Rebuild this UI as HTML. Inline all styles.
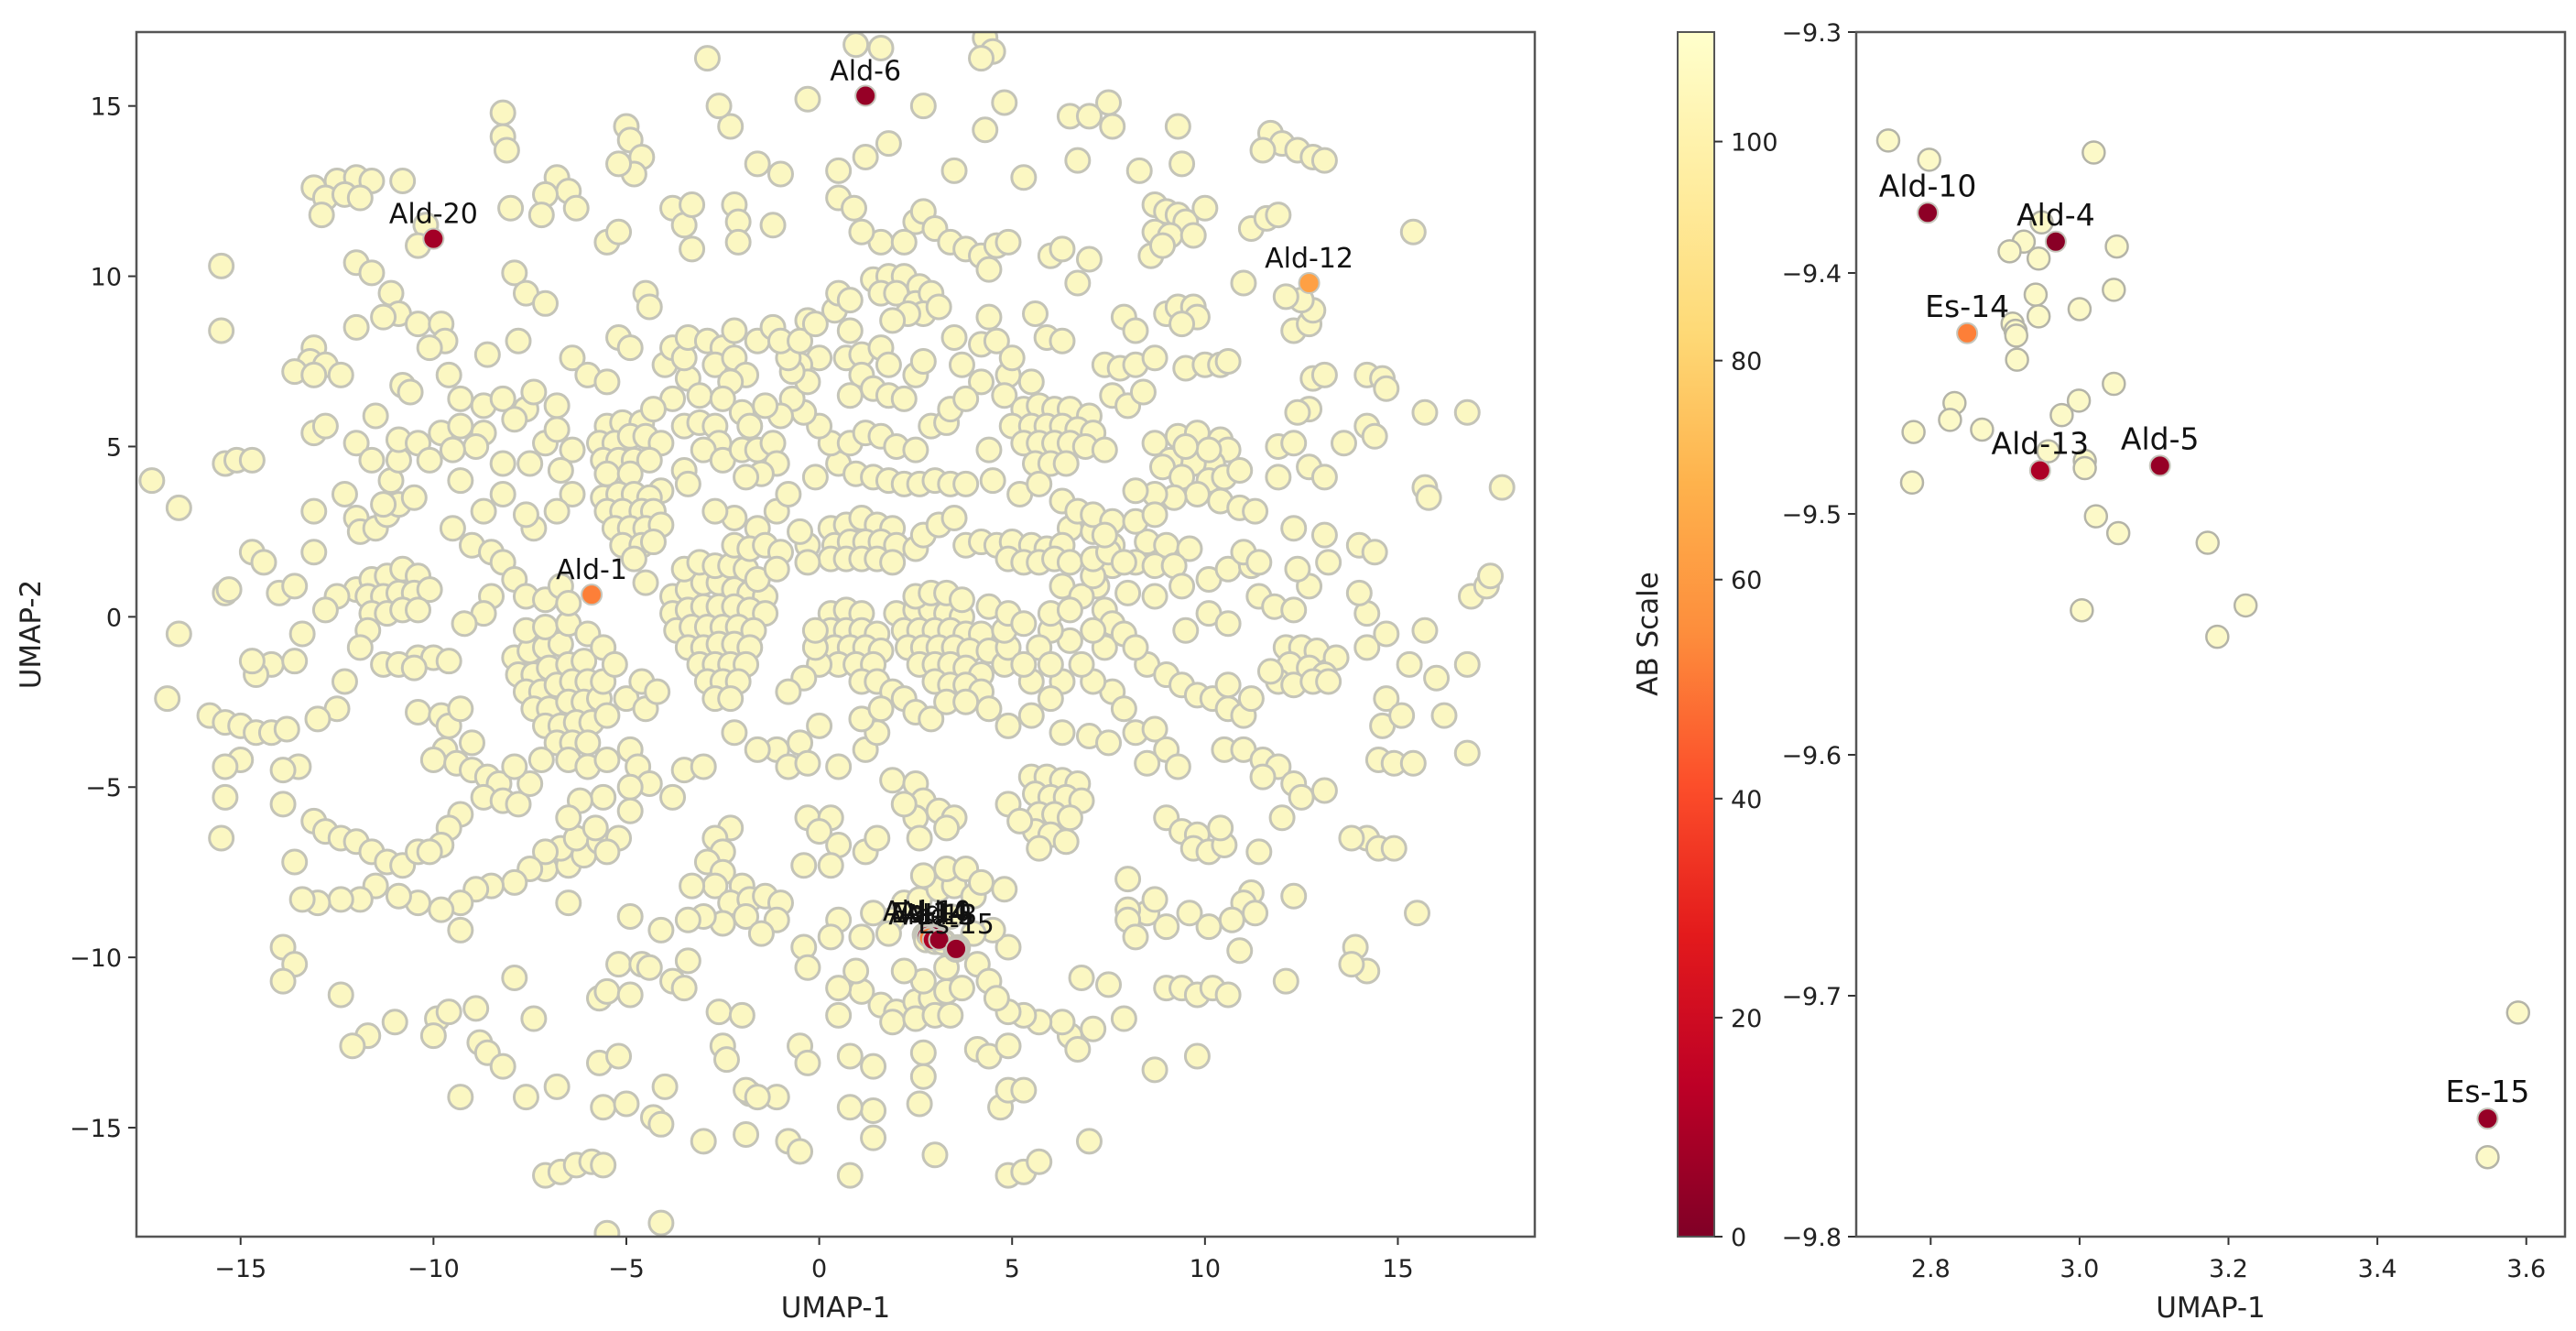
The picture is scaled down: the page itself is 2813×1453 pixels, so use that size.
<!DOCTYPE html>
<html><head><meta charset="utf-8">
<style>
html,body{margin:0;padding:0;background:#fff;}
svg{display:block;font-family:"DejaVu Sans","Liberation Sans",sans-serif;}
</style></head>
<body>
<svg id="fig" width="2813" height="1453" viewBox="0 0 2813 1453" xmlns="http://www.w3.org/2000/svg">
<defs>
<linearGradient id="cbgrad" x1="0" y1="1" x2="0" y2="0">
<stop offset="0" stop-color="#800026"/><stop offset="0.125" stop-color="#bd0026"/><stop offset="0.25" stop-color="#e31a1c"/><stop offset="0.375" stop-color="#fc4e2a"/><stop offset="0.5" stop-color="#fd8d3c"/><stop offset="0.625" stop-color="#feb24c"/><stop offset="0.75" stop-color="#fed976"/><stop offset="0.875" stop-color="#ffeda0"/><stop offset="1" stop-color="#ffffcc"/>
</linearGradient>
</defs>
<g id="left"></g>
<g id="cbar"></g>
<g id="right"></g>
</svg>
<script>
// ---------- data ----------
const bgPoints = [
[-2.9,16.4],[0.95,16.8],[1.6,16.7],[4.3,17],[4.5,16.6],[4.2,16.4],[-0.3,15.2],[2.7,15],[4.8,15.1],[4.3,14.3],[6.5,14.7],[7.5,15.1],[7.6,14.4],[9.3,14.4],[7,14.7],[-2.3,14.4],[-2.6,15],[-8.2,14.8],[-8.2,14.1],[-8.1,13.7],[-5,14.4],[-4.9,14],[-4.6,13.5],[-4.8,13],[-5.2,13.3],
[11.7,14.2],[12,13.9],[12.4,13.7],[12.8,13.5],[13.1,13.4],[11.5,13.7],[1.2,13.5],[0.5,13.1],[1.8,13.9],[-1.6,13.3],[-1,13],[3.5,13.1],[5.3,12.9],[6.7,13.4],[8.3,13.1],[9.4,13.3],[2.5,11.6],
[-13.1,12.6],[-12.5,12.8],[-12,12.9],[-11.6,12.8],[-12.8,12.3],[-12.3,12.4],[-11.9,12.3],[-12.9,11.8],[-10.8,12.8],[-6.8,12.9],[-6.5,12.5],[-6.3,12],[-7.1,12.4],[-8,12],[-10.2,11.5],[-10.4,10.9],[-7.2,11.8],
[-3.8,12],[-3.5,11.5],[-3.3,12.1],[-3.3,10.8],[-5.5,11],[-5.2,11.3],[-2.2,12.1],[-2.1,11.6],[-1.2,11.5],[-2.1,11],
[0.5,12.3],[0.9,12],[2.7,11.9],[3,11.4],[3.4,11],[3.8,10.8],[4.2,10.6],[4.4,10.2],[4.6,10.9],[4.9,11],[6,10.6],[6.3,10.8],[6.7,9.8],[7,10.5],
[8.7,12.1],[9,11.9],[9.3,11.8],[9.5,11.6],[8.7,11.3],[9.1,11.2],[9.7,11.2],[8.6,10.6],[8.9,10.9],[10,12],[11.2,11.4],[11.6,11.7],[11.9,11.8],[15.4,11.3],
[-15.5,10.3],[-15.5,8.4],[-12,10.4],[-11.6,10.1],[-11.1,9.5],[-10.9,8.9],[-11.3,8.8],[-10.4,8.6],[-9.8,8.6],[-9.7,8.1],[-10.1,7.9],[-12,8.5],[-13.1,7.9],[-13.2,7.5],[-13.6,7.2],[-12.8,7.4],[-12.4,7.1],[-13.1,7.1],
[-7.9,10.1],[-7.6,9.5],[-7.1,9.2],[-7.8,8.1],[-8.6,7.7],[-9.6,7.1],[-10.8,6.8],[-9.3,6.4],[-8.7,6.2],[-8.2,6.4],[-7.6,6.1],
[-4.5,9.5],[-4.4,9.1],[-5.2,8.2],[-4.9,7.9],[-4,7.4],[-3.4,7],[-6.4,7.6],[-6,7.1],[-5.5,6.9],[-7.4,6.6],[-6.8,6.2],
[-3.8,7.9],[-3.5,7.6],[-3.4,8.2],[-2.9,8.1],[-2.5,7.9],[-2.7,7.4],[-2.2,7.6],[-1.9,7.1],[-2.3,6.9],[-1.6,8.1],[-1.2,8.5],[-2.2,8.4],
[-0.3,8.7],[0.4,9],[0.5,9.5],[0.8,9.3],[1.4,9.9],[1.8,10],[2.2,10],[2.6,9.7],[1.6,9.5],[2,9.5],[2.5,9.2],[2.9,9.5],[2.7,8.9],[3.1,9.1],[2.3,8.9],[1.9,8.7],[0.8,8.4],[0.7,7.6],[1.1,7.7],[1.6,7.9],[1.8,7.4],[1.1,7.1],[1.4,6.7],[1.8,6.5],[2.2,6.4],[2.5,7.1],[2.7,7.5],[0.8,6.5],[0,7.6],[-0.5,7.4],
[3.5,8.2],[4.2,8],[4.6,8.1],[3.7,7.4],[4.2,6.9],[4.9,7.1],[5,7.6],[4.8,6.5],[5.5,6.9],[5.9,8.2],[5.6,8.9],[4.4,8.8],[6.3,8.1],
[7.9,8.8],[8.2,8.4],[9,8.9],[9.3,9.1],[9.7,9.1],[9.8,8.8],[9.4,8.6],[7.4,7.4],[7.8,7.3],[8.2,7.4],[8.7,7.6],[7.6,6.5],[8,6.2],[8.4,6.6],[9.5,7.3],[10,7.4],[10.4,7.4],[10.6,7.5],
[12.3,8.4],[12.7,8.6],[12.8,9],[12.5,9.3],[12.1,9.4],[11,9.8],[12.8,7],[13.1,7.1],[14.2,7.1],[14.6,7],[14.7,6.7],[12.7,6.1],[12.4,6],[14.2,5.6],[13.6,5.1],[14.4,5.3],[15.7,6],[16.8,6],[17.7,3.8],[15.7,3.8],[15.8,3.5],
[8.7,5.1],[9.3,5.3],[9.8,5.4],[10.4,5.2],[10.6,4.9],[10.2,4.5],[9.7,4.5],[9.1,4.6],[8.9,4.4],[9.4,4.1],[10.1,4],[10.5,4.1],[9.8,3.6],[10.4,3.4],[10.9,3.2],[11.3,3.1],[9.2,3.5],[8.7,3.6],[8.2,3.7],[10.1,4.9],[9.5,5],[10.9,4.3],[11.9,5],[12.3,5.1],[12.7,4.4],[13.1,4.1],[11.9,4.1],
[5.3,6.1],[5.7,6.2],[6.1,6.1],[6.5,6.1],[7,5.9],[5,5.6],[5.5,5.6],[5.9,5.6],[6.3,5.6],[6.7,5.5],[7.1,5.4],[5.3,5.1],[5.7,5.1],[6.1,5.1],[6.5,5.1],[6.9,5],[7.4,4.9],[5.6,4.5],[6,4.5],[6.4,4.5],[4.4,4.9],[4.5,4],[5.2,3.6],[5.7,3.9],
[6.5,2.6],[7.1,2.5],[7.6,2.1],[8.5,2.2],[9,2.1],[9.6,2],[8.2,1.6],[7.6,1.5],[8.7,1.5],[9.2,1.5],[7.2,0.9],[8,0.7],[8.7,0.6],[9.4,0.9],[10.1,1.1],[10.6,1.4],[11.2,1.5],[10.1,0.1],[10.6,-0.2],[9.5,-0.4],[11.4,0.6],[11.8,0.3],[12.3,0.2],[12.7,0.9],[12.4,1.4],[13.2,1.6],
[12.1,-0.9],[12.5,-0.9],[12.9,-1],[13.4,-1.2],[12.2,-1.4],[12.7,-1.5],[13.1,-1.7],[11.9,-1.9],[12.3,-2],[12.8,-1.9],[13.2,-1.9],[11.7,-1.6],[14.2,0.1],[14.2,-0.9],[14.7,-0.5],[15.3,-1.4],[16,-1.8],[16.8,-1.4],[16.9,0.6],[17.3,0.9],[17.4,1.2],[15.7,-0.4],[14.7,-2.4],[14.6,-3.2],[15.1,-2.9],[16.2,-2.9],[16.8,-4],[14.5,-4.2],[14.9,-4.3],[15.4,-4.3],
[8.5,-1.4],[9,-1.7],[9.4,-2],[9.8,-2.3],[10.2,-2.4],[10.6,-2.7],[11,-2.9],[11.2,-2.4],[10.6,-2],[7.6,-2.2],[7.9,-2.7],[7.1,-1.9],[6.8,-1.4],[7.4,-0.9],[6.5,-0.7],[6,-0.4],[6.3,-1.9],[6,-2.4],[5.5,-2.9],[4.9,-3.2],[6.3,-3.4],[7,-3.5],[7.5,-3.7],[8.2,-3.4],[8.7,-3.3],[9,-3.9],[8.5,-4.3],[9.3,-4.4],[10.5,-3.9],[11,-3.9],[11.5,-4.2],[11.9,-4.4],[12.3,-4.9],[11.5,-4.7],[12.5,-5.3],[13.1,-5.1],
[5.5,-4.7],[5.9,-4.7],[6.3,-4.8],[6.7,-4.9],[5.6,-5.2],[6,-5.3],[6.4,-5.3],[6.8,-5.4],[5.7,-5.8],[6.1,-5.8],[6.5,-5.9],[5.6,-6.3],[6,-6.4],[6.4,-6.6],[5.7,-6.8],[4.9,-5.5],[5.2,-6],
[9,-5.9],[9.4,-6.3],[9.8,-6.4],[9.7,-6.8],[10.1,-6.9],[10.5,-6.7],[10.4,-6.2],[11.4,-6.9],[12,-5.9],[12.3,-8.2],[11.2,-8.1],[11,-8.4],[11.3,-8.7],[10.7,-8.9],[10.1,-9.1],[9.6,-8.7],[9,-9.1],[8.5,-8.7],[8,-8.6],[8.7,-8.3],[8,-8.9],[8.2,-9.4],[15.5,-8.7],[14.2,-6.5],[13.8,-6.5],[14.5,-6.8],[14.9,-6.8],[13.9,-9.7],[14.2,-10.4],[13.8,-10.2],[12.1,-10.7],[10.9,-9.8],
[9,-10.9],[9.4,-10.9],[9.8,-11.1],[10.2,-10.9],[10.6,-11.1],[9.8,-12.9],[8.7,-13.3],[7.9,-11.8],[7.1,-12.1],[6.5,-12.3],[6.7,-12.7],[6.8,-10.6],[7.5,-10.8],[7,-15.4],[8,-7.7],
[1.6,-11.4],[2,-11.6],[2.5,-11.3],[2.9,-11.2],[3.3,-11],[3.7,-10.9],[1.9,-11.9],[2.5,-11.8],[3,-11.7],[3.4,-11.7],[1.1,-11],[0.95,-10.4],[2.7,-10.7],[2.2,-10.4],[3.3,-10.3],[4.1,-10.2],[4.4,-10.7],[4.9,-9.7],[4.5,-9.2],[4,-9.3],[3.4,-8.8],[2.2,-8.4],[2.6,-8.3],[3.1,-8],[3.5,-7.9],[4,-8.2],[2.7,-7.6],[3.3,-7.4],[3.8,-7.4],[4.2,-7.8],[4.8,-8],[1.9,-8.9],[1.4,-8.7],[1.8,-9.3],[1.1,-9.4],[0.5,-8.9],[0.3,-9.4],[-0.4,-9.7],[-0.3,-10.3],[0.5,-10.9],[0.5,-11.7],[-0.5,-12.6],[-0.3,-13.1],[-1.1,-14.1],[-1.8,-14],[0.8,-12.9],[1.4,-13.2],[2.7,-12.8],[2.7,-13.5],[2.6,-14.3],[1.4,-14.5],[0.8,-14.4],[0.8,-16.4],[-0.8,-15.4],[-0.5,-15.7],[1.4,-15.3],[3,-15.8],[4.1,-12.7],[4.4,-12.9],[4.9,-12.6],[4.7,-14.4],[4.9,-13.9],[5.3,-13.9],[4.9,-16.4],[5.3,-16.3],[5.7,-16],[6.3,-11.9],[5.7,-11.9],[5.3,-11.7],[4.9,-11.6],[4.6,-11.2],
[-0.3,-5.9],[0.3,-5.9],[0,-6.3],[0.5,-6.7],[0.3,-7.3],[-0.4,-7.3],[1.2,-6.9],[1.5,-6.5],[1.9,-4.8],[2.5,-4.9],[2.7,-5.4],[2.5,-5.9],[3.1,-5.7],[3.5,-5.9],[2.2,-5.5],[2.6,-6.5],[3.3,-6.2],[1.2,-3.9],[1.5,-3.4],[1.1,-3],[0,-3.2],[-0.5,-3.7],[-1.1,-3.9],[-1.6,-3.9],[-0.8,-4.4],[-0.3,-4.3],[0.5,-4.4],[-2.2,-3.4],
[-2.3,-6.2],[-2.7,-6.5],[-2.5,-6.9],[-2.9,-7.2],[-2.5,-7.5],[-2,-7.9],[-2.7,-7.9],[-2.3,-8.4],[-1.8,-8.3],[-1.4,-8.2],[-1,-8.4],[-1.9,-8.8],[-2.5,-9],[-3,-8.8],[-3.3,-7.9],[-3.4,-8.9],[-1.1,-8.9],[-1.5,-9.3],
[-7.1,-7.4],[-6.5,-7.3],[-6.1,-7],[-6.7,-6.8],[-6.3,-6.5],[-5.7,-6.6],[-5.2,-6.5],[-5.5,-6.9],[-7.1,-6.9],[-7.5,-7.4],[-7.9,-7.8],[-8.5,-7.9],[-8.9,-8],[-9.3,-8.4],[-9.8,-8.6],[-10.4,-8.4],[-10.9,-8.2],[-11.5,-7.9],[-11.9,-8.3],[-12.4,-8.3],[-13,-8.4],[-13.4,-8.3],[-13.1,-6],[-12.8,-6.3],[-12.4,-6.5],[-12,-6.6],[-11.6,-6.9],[-11.2,-7.2],[-10.8,-7.3],[-10.4,-6.9],[-13.6,-7.2],[-13.9,-5.5],[-13.5,-4.4],[-13.9,-4.5],[-15,-4.2],[-15.4,-4.4],[-15.4,-5.3],[-15.5,-6.5],[-15.8,-2.9],[-15.4,-3.1],[-15,-3.2],[-14.6,-3.4],[-14.2,-3.4],[-13.8,-3.3],[-16.9,-2.4],[-16.6,-0.5],[-17.3,4],[-16.6,3.2],
[-12,0.8],[-11.6,1.1],[-11.2,1.2],[-10.8,1.4],[-10.4,1.2],[-11.7,0.6],[-11.3,0.6],[-10.9,0.7],[-10.5,0.7],[-10.1,0.8],[-11.6,0.1],[-11.2,0.1],[-10.8,0.2],[-10.4,0.2],[-11.7,-0.4],[-11.9,-0.9],[-14.2,-1.4],[-14.6,-1.7],[-14.7,-1.3],[-13.6,-1.3],[-13.4,-0.5],[-12.5,0.6],[-12.8,0.2],[-15.4,0.7],[-15.3,0.8],[-14,0.7],[-13.6,0.9],[-14.7,1.9],[-14.4,1.6],[-15.4,4.5],[-15.1,4.6],[-14.7,4.6],[-13.1,1.9],[-13.1,3.1],[-12.3,3.6],[-12,2.9],[-11.9,2.5],[-11.5,2.6],[-11.2,3],[-10.9,3.3],[-11.3,3.3],[-10.5,3.5],[-11.1,4],[-10.9,4.6],[-10.9,5.2],[-11.5,5.9],[-13.1,5.4],[-12.8,5.6],[-12,5.1],[-11.6,4.6],[-10.6,6.6],
[-10.4,-1.2],[-10,-1.2],[-9.6,-1.3],[-11.3,-1.4],[-10.9,-1.4],[-10.5,-1.5],[-12.3,-1.9],[-12.5,-2.7],[-13,-3],[-10.4,-2.8],[-9.8,-2.9],[-9.6,-3.2],[-9.3,-2.7],[-9,-3.7],[-9.7,-3.9],[-10,-4.2],[-9.4,-4.3],[-9,-4.5],[-8.6,-4.7],[-8.3,-4.9],[-8.7,-5.3],[-8.2,-5.4],[-7.8,-5.5],[-7.5,-4.9],[-7.9,-4.4],[-9.3,-5.8],[-9.6,-6.2],[-9.8,-6.7],[-10.1,-6.9],
[-7.9,-1.2],[-7.5,-1],[-7.1,-0.9],[-6.7,-0.8],[-7.8,-1.7],[-7.4,-1.7],[-7,-1.5],[-6.5,-1.4],[-6.1,-1.3],[-7.6,-2.2],[-7.2,-2.2],[-6.8,-2],[-6.4,-1.9],[-6,-1.9],[-7.4,-2.7],[-7,-2.7],[-6.5,-2.5],[-6.1,-2.5],[-5.7,-2.4],[-7.1,-3.2],[-6.7,-3.2],[-6.3,-3.1],[-5.9,-3.1],[-5.5,-2.9],[-7.6,-0.4],[-7.1,-0.3],[-6.5,-0.2],[-6,-0.5],[-5.6,-0.9],[-5.6,-1.9],[-5.3,-1.4],[-5,-2.4],[-4.6,-1.9],[-4.5,-2.7],[-4.2,-2.2],[-6.8,-3.7],[-6.4,-3.7],[-6,-3.7],[-7.2,-4.2],[-6.5,-4.2],[-6,-4.4],[-5.5,-4.2],[-4.9,-3.9],[-4.7,-4.4],[-4.4,-4.9],[-4.9,-5],[-5.6,-5.3],[-6.2,-5.4],[-6.5,-5.9],[-5.8,-6.2],[-4.9,-5.7],[-3.8,-5.3],[-3.5,-4.5],[-3,-4.4],
[-3.8,0.6],[-3.4,0.8],[-3,1],[-2.6,1],[-2.2,0.8],[-1.8,0.7],[-1.4,0.6],[-3.8,0.1],[-3.4,0.2],[-3,0.3],[-2.6,0.3],[-2.2,0.3],[-1.8,0.2],[-1.4,0.1],[-3.7,-0.4],[-3.3,-0.3],[-2.9,-0.3],[-2.5,-0.3],[-2.1,-0.3],[-1.7,-0.4],[-3.4,-0.9],[-3,-0.9],[-2.6,-0.8],[-2.2,-0.8],[-1.8,-0.9],[-3.1,-1.4],[-2.7,-1.4],[-2.3,-1.4],[-1.9,-1.4],[-2.9,-1.9],[-2.5,-1.9],[-2.1,-1.9],[-2.7,-2.4],[-2.3,-2.4],[-3.5,1.4],[-3.1,1.6],[-2.7,1.5],[-2.3,1.5],[-1.9,1.4],[-1.6,1.1],
[0.3,0.1],[0.7,0.2],[1.1,0.1],[0.3,-0.4],[0.7,-0.4],[1.1,-0.4],[1.5,-0.5],[0.4,-0.9],[0.8,-0.9],[1.2,-0.9],[1.6,-1],[0.5,-1.4],[0.95,-1.4],[1.4,-1.4],[0,-1.4],[-0.1,-0.9],[-0.1,-0.4],[1.1,-1.9],[1.5,-1.9],[1.9,-2.2],[2.2,-2.4],[2.5,-2.8],[2.9,-3],[1.6,-2.7],[-0.4,-1.8],[-0.8,-2.2],
[2,0.1],[2.5,0.2],[2.9,0.2],[3.3,0.1],[3.7,0],[2.2,-0.4],[2.6,-0.4],[3,-0.4],[3.4,-0.4],[3.8,-0.5],[4.2,-0.5],[2.3,-0.9],[2.7,-0.9],[3.1,-0.9],[3.5,-0.9],[3.9,-1],[4.4,-1],[2.6,-1.4],[3,-1.4],[3.4,-1.4],[3.8,-1.5],[4.2,-1.7],[3,-1.9],[3.4,-2],[3.8,-2],[4.2,-2.2],[3.3,-2.5],[3.8,-2.5],[4.4,-2.7],[4.8,-1.4],[4.9,-0.9],[4.8,-0.4],[2.5,0.6],[2.9,0.7],[3.3,0.7],[3.7,0.5],[4.4,0.3],[4.9,0.1],[5.3,-0.2],[5.7,-0.9],[6,-1.4],[5.5,-1.9],[5.3,-1.4],
[0.3,2.6],[0.7,2.7],[1.1,2.9],[1.5,2.7],[1.9,2.6],[0.4,2.1],[0.8,2.2],[1.2,2.2],[1.6,2.2],[2,2.1],[2.5,2],[0.3,1.7],[0.7,1.7],[1.1,1.7],[1.5,1.7],[1.9,1.6],[-0.3,2.1],[-0.3,1.6],[-0.5,2.5],[2.7,2.4],[3.1,2.7],[3.5,2.9],[3.8,2.1],[4.2,2.2],[4.6,2.1],[5,2.2],[5.5,2.1],[5.9,2],[6.3,2.1],[4.9,1.7],[5.3,1.6],[5.7,1.6],[6.1,1.7],
[-1.6,2.6],[-2.2,2.9],[-2.7,3.1],[-1.1,3.1],[-0.8,3.6],[-0.1,4.1],[0.5,4.5],[0.95,4.2],[1.4,4.1],[1.8,4],[2.2,3.9],[2.6,3.9],[3,4],[3.4,3.9],[3.8,3.9],[0.3,5.1],[0.8,5.1],[1.2,5.4],[1.6,5.3],[2,5],[2.5,4.9],[2.9,5.6],[3.3,5.7],[3.4,6.1],[3.8,6.4],[0,5.6],[-0.4,6],[-0.7,6.4],[-1,5.9],[-0.3,6.9],[-0.7,7.2],
[-5.5,5.6],[-5.1,5.7],[-4.6,5.7],[-5.7,5.1],[-5.3,5.1],[-4.9,5.3],[-4.5,5.3],[-4.1,5.1],[-5.6,4.6],[-5.2,4.6],[-4.8,4.6],[-4.4,4.6],[-5.5,4.2],[-4.9,4.2],[-3.5,5.6],[-3.1,5.7],[-2.7,5.6],[-2.6,5.1],[-3,4.9],[-2.5,4.6],[-2,4.9],[-1.6,4.9],[-1.2,5.1],[-1.1,4.5],[-1.5,4.2],[-1.9,4.1],[-3.5,4.3],[-3.4,3.9],[-4.1,3.7],[-5.6,3.5],[-5.2,3.6],[-4.8,3.6],[-4.4,3.5],[-5.5,3.1],[-5.1,3.1],[-4.6,3.1],[-4.3,3.1],[-5.3,2.6],[-4.9,2.6],[-4.5,2.6],[-4.1,2.7],[-5.1,2.1],[-4.6,2.1],[-4.3,2.2],[-4.8,1.7],[-6.4,3.6],[-6.8,3.1],[-7.4,2.6],[-7.6,3],[-8.2,3.6],[-8.7,3.1],[-9.5,2.6],[-9,2.1],[-8.5,1.9],[-8.2,1.6],[-7.9,1.1],[-8.5,0.6],[-8.7,0.1],[-9.2,-0.2],[-7.6,0.6],[-7.1,0.5],[-6.7,0.9],[-6.5,0.4],[-4.5,1],[-2.2,2.1],[-1.8,2],[-1.4,2.1],[-1,1.9],[-1.1,1.4],
[-10.4,5.1],[-9.8,5.4],[-9.3,5.6],[-8.7,5.4],[-8.9,5],[-9.5,4.9],[-9.3,4],[-10.1,4.6],[-7.1,5.1],[-6.8,5.5],[-6.4,4.9],[-6.7,4.3],[-7.5,4.5],[-7.9,5.8],[-8.2,4.5],
[-3.8,6.4],[-4.3,6.1],[-3.1,6.5],[-2.5,6.4],[-2,6],[-1.8,5.6],[-1.4,6.2],[-0.8,7.6],[-1,8.1],[-0.5,8.1],[-0.1,8.6],[1.6,11],[2.2,11],[1.1,11.3],
[6.3,0.9],[6.8,0.6],[7.4,0.2],[7.6,-0.2],[7.9,-0.5],[8.2,-0.9],[7.1,-0.4],[6,0.1],[6.5,0.2],[7.1,1.2],[6.5,1.6],[7.1,1.7],[7.5,1.9],[7.9,1.6],
[6.3,3.4],[6.7,3.1],[7.1,3],[7.6,2.8],[8.2,2.8],[8.7,3],[7.4,2.4],
[11,1.9],[11.4,1.6],[12.3,2.6],[13.1,2.4],[14,2.1],[14.4,1.9],[14,0.7],
[-13.9,-9.7],[-13.6,-10.2],[-13.9,-10.7],[-12.4,-11.1],[-11.7,-12.3],[-12.1,-12.6],[-11,-11.9],[-9.9,-11.8],[-9.6,-11.6],[-10,-12.3],[-9.3,-14.1],[-8.9,-11.5],[-8.8,-12.5],[-8.6,-12.8],[-8.2,-13.2],[-7.9,-10.6],[-7.6,-14.1],[-7.4,-11.8],[-6.8,-13.8],[-7.1,-16.4],[-6.7,-16.3],[-6.3,-16.1],[-5.9,-16],[-5.6,-16.1],[-5.5,-18.1],[-4.1,-17.8],[-5.6,-14.4],[-5,-14.3],[-4.3,-14.7],[-4.1,-14.9],[-5.7,-13.1],[-5.2,-12.9],[-5.7,-11.2],[-5.5,-11],[-4.9,-11.1],[-5.2,-10.2],[-4.6,-10.2],[-4.4,-10.3],[-3.8,-10.7],[-3.5,-10.9],[-3.4,-10.1],[-4.1,-9.2],[-4.9,-8.8],[-6.5,-8.4],[-9.3,-9.2],[-2.6,-11.6],[-2,-11.7],[-1.9,-13.9],[-1.6,-14.1],[-3,-15.4],[-1.9,-15.2],[-4,-13.8],[-2.5,-12.6],[-2.4,-13]
];
const zoomX = [2.743,2.798,3.019,2.949,2.925,2.906,2.945,3.050,3.046,2.941,2.945,3.000,2.910,2.914,2.915,2.916,3.046,2.832,2.999,2.976,2.826,2.777,2.869,2.958,3.007,3.007,2.775,3.022,3.052,3.172,3.003,3.223,3.185,3.589,3.548];
const zoomY = [-9.345,-9.353,-9.350,-9.379,-9.387,-9.391,-9.394,-9.389,-9.407,-9.409,-9.418,-9.415,-9.421,-9.424,-9.426,-9.436,-9.446,-9.454,-9.453,-9.459,-9.461,-9.466,-9.465,-9.474,-9.478,-9.481,-9.487,-9.501,-9.508,-9.512,-9.540,-9.538,-9.551,-9.707,-9.767];
const bgValue = 103;
const labelNames = ["Ald-6","Ald-20","Ald-12","Ald-1","Ald-10","Ald-4","Es-14","Ald-13","Ald-5","Es-15"];
const labelX = [1.2,-10.0,12.7,-5.9,2.796,2.968,2.849,2.947,3.108,3.548];
const labelY = [15.3,11.1,9.8,0.65,-9.375,-9.387,-9.425,-9.482,-9.480,-9.751];
const labelValues = [5,8,62,52,3,2,52,10,5,5];
const leftXTicks = [-15,-10,-5,0,5,10,15];
const leftYTicks = [-15,-10,-5,0,5,10,15];
const rightXTicks = [2.8,3.0,3.2,3.4,3.6];
const rightYTicks = [-9.8,-9.7,-9.6,-9.5,-9.4,-9.3];
const cbTicks = [0,20,40,60,80,100];

// ---------- helpers ----------
const NS = "http://www.w3.org/2000/svg";
function mk(tag, attrs, parent){ const e=document.createElementNS(NS,tag); for(const k in attrs) e.setAttribute(k,attrs[k]); parent.appendChild(e); return e; }
const stops=[[0,[128,0,38]],[0.125,[189,0,38]],[0.25,[227,26,28]],[0.375,[252,78,42]],[0.5,[253,141,60]],[0.625,[254,178,76]],[0.75,[254,217,118]],[0.875,[255,237,160]],[1,[255,255,204]]];
const VMAX=110;
function cmap(v){ let t=Math.max(0,Math.min(1,v/VMAX)); for(let i=1;i<stops.length;i++){ if(t<=stops[i][0]){ const a=stops[i-1],b=stops[i]; const f=(t-a[0])/(b[0]-a[0]); const c=a[1].map((x,j)=>Math.round(x+(b[1][j]-x)*f)); return `rgb(${c[0]},${c[1]},${c[2]})`; } } return "rgb(255,255,204)"; }
function fmt(v,d){ return (v<0?"\u2212":"")+Math.abs(v).toFixed(d); }

// ---------- axes ----------
const LA={L:149,R:1676,T:35,B:1350,x0:-17.7,x1:18.55,y0:-18.2,y1:17.17};
const RA={L:2027,R:2801,T:35,B:1350,x0:2.7,x1:3.652,y0:-9.8,y1:-9.3};
const lx=v=>LA.L+(v-LA.x0)/(LA.x1-LA.x0)*(LA.R-LA.L);
const ly=v=>LA.B-(v-LA.y0)/(LA.y1-LA.y0)*(LA.B-LA.T);
const rx=v=>RA.L+(v-RA.x0)/(RA.x1-RA.x0)*(RA.R-RA.L);
const ry=v=>RA.B-(v-RA.y0)/(RA.y1-RA.y0)*(RA.B-RA.T);
const cy=v=>1350-v/VMAX*(1350-35);
const PR=13;

function drawAxes(g,A,fx,fy,xt,yt,dec,ylabel){
  const clip=mk("clipPath",{id:g.id+"-clip"},g);
  mk("rect",{x:A.L,y:A.T,width:A.R-A.L,height:A.B-A.T},clip);
  xt.forEach(v=>{ const x=fx(v);
    const t=mk("line",{x1:x,x2:x,y1:A.B,y2:A.B+9,stroke:"#333","stroke-width":2},g);
    
    
    const l=mk("text",{x:x,y:A.B+44,"text-anchor":"middle","font-size":27,fill:"#222"},g); l.textContent=fmt(v,dec);
    
    
  });
  yt.forEach(v=>{ const y=fy(v);
    const t=mk("line",{x1:A.L-9,x2:A.L,y1:y,y2:y,stroke:"#333","stroke-width":2},g);
    
    
    const l=mk("text",{x:A.L-16,y:y+10,"text-anchor":"end","font-size":27,fill:"#222"},g); l.textContent=fmt(v,dec);
    
    
  });
  const xl=mk("text",{x:(A.L+A.R)/2,y:1438,"text-anchor":"middle","font-size":31,fill:"#222"},g); xl.textContent="UMAP-1";
  
  
  if(ylabel){ const yl=mk("text",{x:0,y:0,transform:`translate(44,${(A.T+A.B)/2}) rotate(-90)`,"text-anchor":"middle","font-size":31,fill:"#222"},g); yl.textContent=ylabel;
    
     }
}
function frame(g,A){ const f=mk("rect",{x:A.L,y:A.T,width:A.R-A.L,height:A.B-A.T,fill:"none",stroke:"#555","stroke-width":2.5},g);
  
   }

// ---------- left ----------
const left=document.getElementById("left");
drawAxes(left,LA,lx,ly,leftXTicks,leftYTicks,0,"UMAP-2");
const lp=mk("g",{"clip-path":"url(#left-clip)"},left);
bgPoints.forEach(p=>{ const c=mk("circle",{cx:lx(p[0]),cy:ly(p[1]),r:PR,fill:"#fbf7c2",stroke:"#c4c4b8","stroke-width":3},lp);
  
   });
for(let i=0;i<zoomX.length;i++){ const c=mk("circle",{cx:lx(zoomX[i]),cy:ly(zoomY[i]),r:PR,fill:"#fbf7c2",stroke:"#c4c4b8","stroke-width":3},lp);
  
   }
for(let i=0;i<labelNames.length;i++){ const x=lx(labelX[i]),y=ly(labelY[i]);
  const c=mk("circle",{cx:x,cy:y,r:11,fill:cmap(labelValues[i]),stroke:"#c6c6bc","stroke-width":2},lp);
  
  
  const t=mk("text",{x:x,y:y-17,"text-anchor":"middle","font-size":30,fill:"#111"},lp); t.textContent=labelNames[i];
  
   }
frame(left,LA);

// ---------- colorbar ----------
const cb=document.getElementById("cbar");
const cr=mk("rect",{x:1832,y:35,width:40,height:1315,fill:"url(#cbgrad)",stroke:"#555","stroke-width":2},cb);


cbTicks.forEach(v=>{ const y=cy(v);
  const t=mk("line",{x1:1872,x2:1881,y1:y,y2:y,stroke:"#333","stroke-width":2},cb);
  
  
  const l=mk("text",{x:1890,y:y+10,"font-size":27,fill:"#222"},cb); l.textContent=String(v);
  
   });
const cl=mk("text",{x:0,y:0,transform:"translate(1810,692) rotate(-90)","text-anchor":"middle","font-size":31,fill:"#222"},cb); cl.textContent="AB Scale";



// ---------- right ----------
const right=document.getElementById("right");
drawAxes(right,RA,rx,ry,rightXTicks,rightYTicks,1,null);
const rp=mk("g",{"clip-path":"url(#right-clip)"},right);
for(let i=0;i<zoomX.length;i++){ const c=mk("circle",{cx:rx(zoomX[i]),cy:ry(zoomY[i]),r:12,fill:"#fcf9c8",stroke:"#b4b4a8","stroke-width":2.5},rp);
  
   }
for(let i=4;i<labelNames.length;i++){ const x=rx(labelX[i]),y=ry(labelY[i]);
  const c=mk("circle",{cx:x,cy:y,r:11,fill:cmap(labelValues[i]),stroke:"#c6c6bc","stroke-width":2},rp);
  
  
  const t=mk("text",{x:x,y:y-18,"text-anchor":"middle","font-size":33,fill:"#111"},rp); t.textContent=labelNames[i];
  
   }
frame(right,RA);
</script>
</body></html>
